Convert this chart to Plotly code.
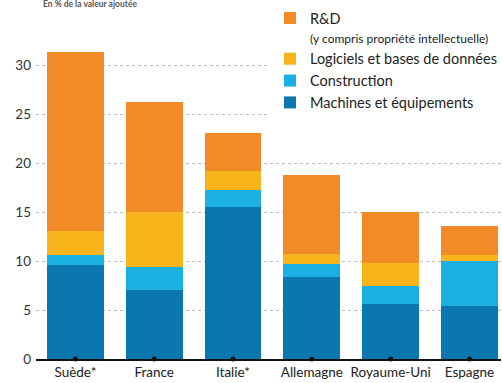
import plotly.graph_objects as go

countries = ["Suède*", "France", "Italie*", "Allemagne", "Royaume-Uni", "Espagne"]
machines = [9.6, 7.0, 15.5, 8.4, 5.6, 5.4]
construction = [1.0, 2.4, 1.8, 1.3, 1.9, 4.6]
logiciels = [2.5, 5.6, 1.9, 1.0, 2.3, 0.6]
rd = [18.3, 11.3, 3.9, 8.1, 5.2, 3.0]
zero_marks = [0, 0, 0, 0, 0, 0]
y_ticks = [0, 5, 10, 15, 20, 25, 30]

FONT = "Lato, Liberation Sans, sans-serif"

fig = go.Figure()
fig.add_trace(go.Bar(x=countries, y=machines, name="Machines et équipements",
                     marker=dict(color="#0A77AE", line=dict(width=0))))
fig.add_trace(go.Bar(x=countries, y=construction, name="Construction",
                     marker=dict(color="#1AB0E1", line=dict(width=0))))
fig.add_trace(go.Bar(x=countries, y=logiciels, name="Logiciels et bases de données",
                     marker=dict(color="#F8B41B", line=dict(width=0))))
fig.add_trace(go.Bar(x=countries, y=rd,
                     name="R&D<br><span style='font-size:12px'>(y compris propriété intellectuelle)</span>",
                     marker=dict(color="#F28A28", line=dict(width=0))))
fig.add_trace(go.Scatter(x=countries, y=zero_marks, mode="markers", showlegend=False,
                         marker=dict(color="#111111", size=5), cliponaxis=False,
                         hoverinfo="skip"))

fig.update_layout(
    width=502, height=383,
    margin=dict(l=36, r=0, t=36, b=24),
    barmode="stack", bargap=0.28,
    paper_bgcolor="white", plot_bgcolor="white",
    font=dict(family=FONT, size=13, color="#222222"),
    showlegend=True,
    legend=dict(traceorder="reversed", x=0.503, xanchor="left", y=1.105, yanchor="top",
                bgcolor="white", font=dict(size=14.5, color="#222222"), valign="top",
                itemwidth=30, tracegroupgap=0),
    xaxis=dict(range=[-0.5, 5.4], showline=True, linecolor="#111111", linewidth=1.5,
               ticks="", showgrid=False, tickfont=dict(size=13.5, color="#222222")),
    yaxis=dict(range=[0, 33], tickvals=y_ticks, showgrid=True, gridcolor="#bdbdbd",
               griddash="dot", gridwidth=1, zeroline=False, showline=False,
               tickfont=dict(size=13.5, color="#333333"), ticklabelstandoff=4),
)
fig.add_annotation(text="<b>En % de la valeur ajoutée</b>", xref="paper", yref="paper",
                   x=0.01, y=1.076, xanchor="left", yanchor="bottom", showarrow=False,
                   font=dict(size=8.5, color="#555555"))

fig.write_html("out.html")
